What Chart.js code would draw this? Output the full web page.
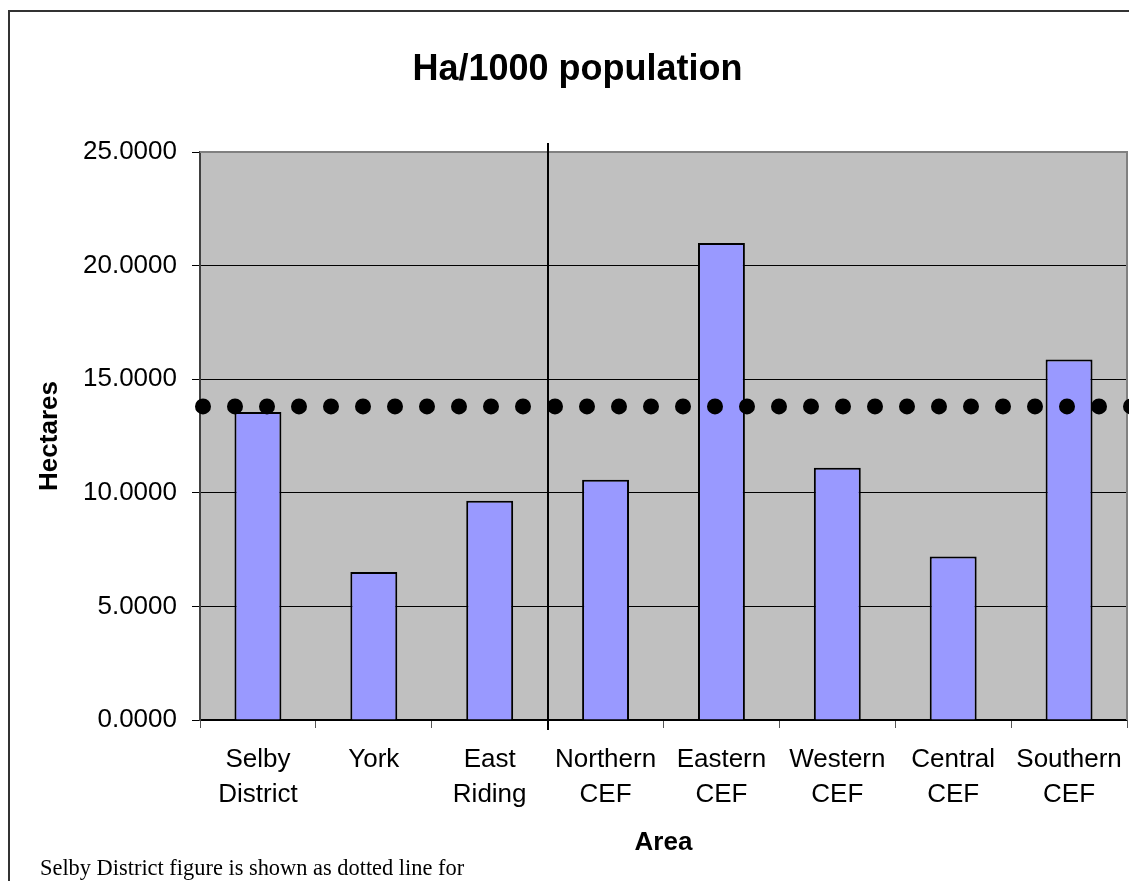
<!DOCTYPE html>
<html><head><meta charset="utf-8">
<script src="https://cdn.jsdelivr.net/npm/chart.js@4.4.0/dist/chart.umd.min.js"></script>
<style>
html,body{margin:0;padding:0;background:#fff;overflow:hidden}
#wrap{position:relative;width:1129px;height:881px}
#frame{position:absolute;left:8px;top:10px;width:1200px;height:1000px;border:2px solid #333}
#chart{position:absolute;left:0;top:0}
#note{position:absolute;left:40px;top:855px;font:22.4px 'Liberation Serif','Times New Roman',serif;color:#000;white-space:nowrap}
</style></head><body>
<div id="wrap"><div id="frame"></div><canvas id="chart" width="1129" height="881"></canvas><div id="note">Selby District figure is shown as dotted line for</div></div>
<script>
const categories=[['Selby','District'],['York'],['East','Riding'],['Northern','CEF'],['Eastern','CEF'],['Western','CEF'],['Central','CEF'],['Southern','CEF']];
const hectares=[13.56,6.51,9.65,10.57,21.0,11.10,7.20,15.87];
const selbyFigure=13.8;
const yMin=0,yMax=25,yStep=5;
const dividerAfter=2; // between East Riding and the CEF areas

const FONT="Arial, 'Liberation Sans', sans-serif";

const plotBg={id:'plotBg',
  beforeDraw(c){const {ctx,chartArea:a}=c;ctx.save();ctx.fillStyle='#c0c0c0';ctx.fillRect(a.left,a.top,a.right-a.left,a.bottom-a.top);ctx.restore();},
  beforeDatasetsDraw(c){const {ctx,chartArea:a}=c;ctx.save();ctx.strokeStyle='#808080';ctx.lineWidth=2;ctx.beginPath();ctx.moveTo(a.left,a.top);ctx.lineTo(a.right,a.top);ctx.lineTo(a.right,a.bottom);ctx.stroke();ctx.restore();},
  afterDatasetsDraw(c){
    const {ctx,chartArea:a}=c,x=c.scales.x;
    const px=Math.round((x.getPixelForValue(dividerAfter)+x.getPixelForValue(dividerAfter+1))/2);
    ctx.save();ctx.strokeStyle='#000';ctx.lineWidth=2;ctx.beginPath();ctx.moveTo(px,a.top-9);ctx.lineTo(px,a.bottom+10);ctx.stroke();ctx.restore();
  }
};

new Chart(document.getElementById('chart'),{
  type:'bar',
  data:{labels:categories,datasets:[
    {type:'line',label:'Selby District',xAxisID:'x2',yAxisID:'y',order:0,clip:false,
     data:[{x:0,y:selbyFigure},{x:categories.length+0.05,y:selbyFigure}],
     borderColor:'#000',borderWidth:16,borderDash:[0,32],borderDashOffset:29,borderCapStyle:'round',pointRadius:0,fill:false},
    {label:'Ha/1000 population',data:hectares,order:1,grouped:false,backgroundColor:'#9999ff',borderColor:'#000',borderWidth:2,barPercentage:0.405,categoryPercentage:1}
  ]},
  options:{responsive:false,animation:false,
    layout:{padding:{left:28,right:2,top:0,bottom:0}},
    plugins:{legend:{display:false},tooltip:{enabled:false},
      title:{display:true,text:'Ha/1000 population',color:'#000',font:{family:FONT,size:36,weight:'bold'},padding:{top:48,bottom:60.8}}},
    scales:{
      x:{type:'category',offset:true,
        afterFit(s){s.height=161;s.paddingLeft=0;s.paddingRight=0;},
        grid:{offset:true,drawOnChartArea:false,tickLength:8,color:'#555',lineWidth:1},
        border:{color:'#000',width:1.5},
        ticks:{autoSkip:false,maxRotation:0,padding:15,color:'#000',font:{family:FONT,size:26,lineHeight:1.33}},
        title:{display:true,text:'Area',color:'#000',font:{family:FONT,size:26,weight:'bold'},padding:{top:0,bottom:23}}},
      x2:{type:'linear',display:false,offset:false,min:0,max:categories.length,
        afterFit(s){s.paddingLeft=0;s.paddingRight=0;}},
      y:{min:yMin,max:yMax,
        afterFit(s){s.width=172;},
        grid:{color:'#000',lineWidth:1,tickLength:8},
        border:{color:'#404040',width:2},
        ticks:{stepSize:yStep,padding:15,color:'#000',font:{family:FONT,size:26},callback:v=>Number(v).toFixed(4)},
        title:{display:true,text:'Hectares',color:'#000',font:{family:FONT,size:26,weight:'bold'},padding:{top:6,bottom:0}}}
    }
  },
  plugins:[plotBg]
});
</script>
</body></html>
